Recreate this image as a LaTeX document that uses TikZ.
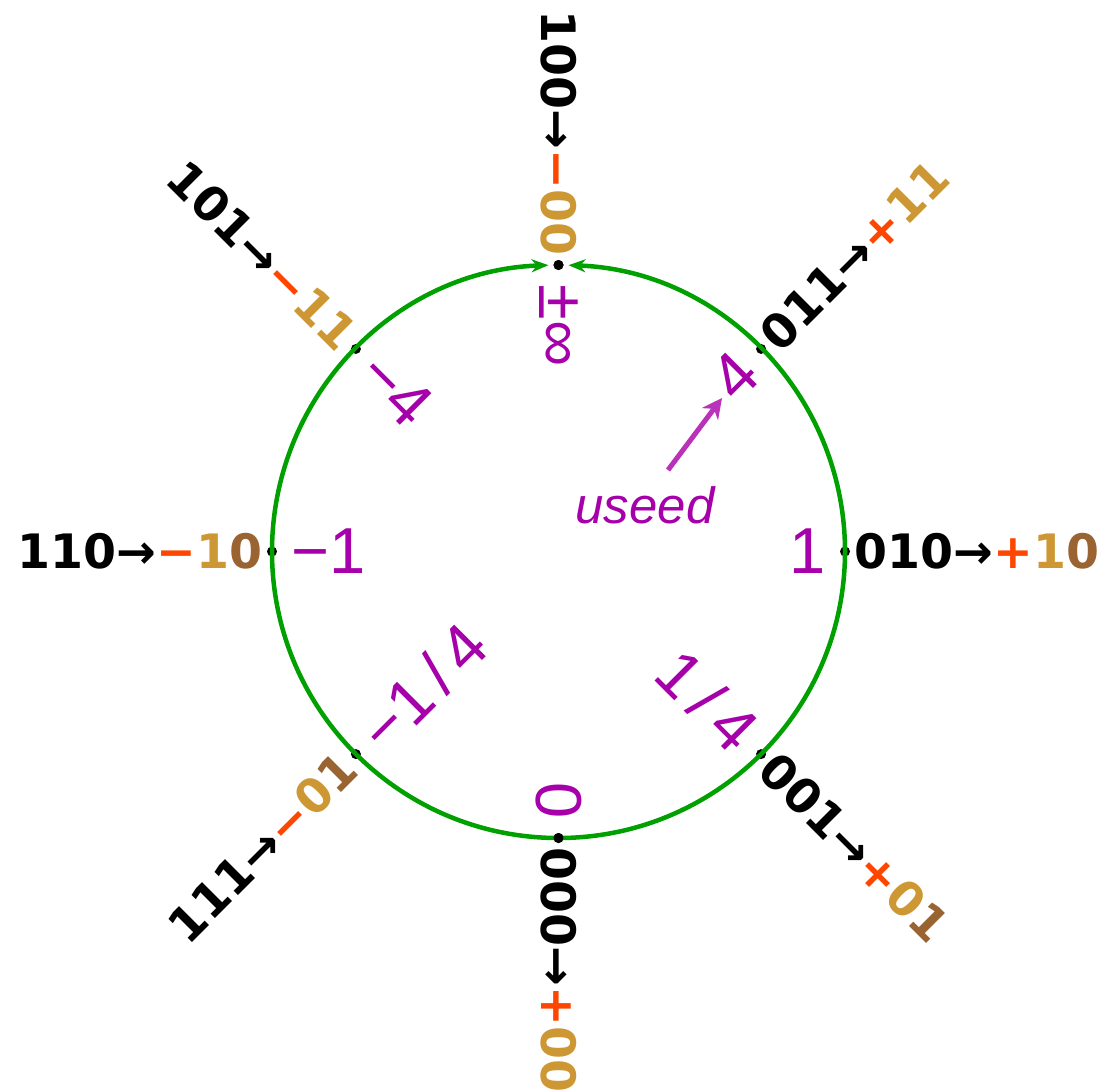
\documentclass[tikz,border=0pt]{standalone}
\usepackage{fontspec}
\setmainfont{Liberation Sans}
\newfontfamily\bitsfont{DejaVu Sans}
\definecolor{ringgreen}{RGB}{0,160,0}
\definecolor{valmagenta}{RGB}{165,0,170}
\definecolor{arrowmagenta}{RGB}{185,50,185}
\definecolor{signred}{RGB}{255,70,0}
\definecolor{regimegold}{RGB}{205,152,52}
\definecolor{termbrown}{RGB}{153,100,50}
\newcommand{\plusbit}{\textcolor{signred}{+}}
\newcommand{\minusbit}{\textcolor{signred}{−}}
\newcommand{\regbits}[1]{\textcolor{regimegold}{#1}}
\newcommand{\termbit}[1]{\textcolor{termbrown}{#1}}
\usetikzlibrary{arrows.meta}

\begin{document}
\begin{tikzpicture}[x=0.02cm,y=0.02cm,
  ring/.style={ringgreen,line width=0.09cm,-{Stealth[length=0.34cm,width=0.26cm]}},
  pt/.style={circle,fill=black,inner sep=0pt,minimum size=0.2cm},
  bits/.style={inner sep=0pt,font=\bitsfont\bfseries\fontsize{27}{27}\selectfont},
  val/.style={inner sep=0pt,text=valmagenta,font=\fontsize{37}{37}\selectfont}]
  \useasboundingbox (-558.5,-538.5) rectangle (555.5,551.5);
  % points on the ring
  \node[pt] (p000) at (270:286.5) {};
  \node[pt] (p001) at (315:286.5) {};
  \node[pt] (p010) at (0:286.5) {};
  \node[pt] (p011) at (45:286.5) {};
  \node[pt] (p100) at (90:286.5) {};
  \node[pt] (p101) at (135:286.5) {};
  \node[pt] (p110) at (180:286.5) {};
  \node[pt] (p111) at (225:286.5) {};
  % the ring, both halves meet at infinity
  \draw[ring] (p000) arc[start angle=-90,end angle=88,radius=286.5];
  \draw[ring] (p000) arc[start angle=270,end angle=92,radius=286.5];
  \node[pt] at (p000) {};
  \node[pt] at (p100) {};
  % bit strings outside
  \node[bits,rotate=-90,anchor=west] (b000) at (270:296) {000→\plusbit\regbits{00}};
  \node[bits,rotate=-45,anchor=west] (b001) at (315:296) {001→\plusbit\regbits{0}\termbit{1}};
  \node[bits,anchor=west] (b010) at (0:296) {010→\plusbit\regbits{1}\termbit{0}};
  \node[bits,rotate=45,anchor=west] (b011) at (45:296) {011→\plusbit\regbits{11}};
  \node[bits,rotate=-90,anchor=east] (b100) at (90:296) {100→\minusbit\regbits{00}};
  \node[bits,rotate=-45,anchor=east] (b101) at (135:296) {101→\minusbit\regbits{11}};
  \node[bits,anchor=east] (b110) at (180:296) {110→\minusbit\regbits{1}\termbit{0}};
  \node[bits,rotate=45,anchor=east] (b111) at (225:296) {111→\minusbit\regbits{0}\termbit{1}};
  % values inside
  \node[val,rotate=-90,anchor=east] (zero) at (270:267) {0};
  \node[val,rotate=-45,anchor=east] (quarter) at (315:267) {1\,/\,4};
  \node[val,anchor=east] (one) at (0:267) {1};
  \node[val,rotate=45,anchor=east] (four) at (45:267) {4};
  \node[val,rotate=-90,anchor=west] (inf) at (90:267) {±∞};
  \node[val,rotate=-45,anchor=west] (mfour) at (135:267) {−4};
  \node[val,anchor=west] (mone) at (180:267) {−1};
  \node[val,rotate=45,anchor=west] (mquarter) at (225:267) {−1\,/\,4};
  % useed
  \node[text=valmagenta,font=\itshape\fontsize{29}{29}\selectfont] (useed) at (86.5,46.5) {useed};
  \coordinate (useedtail) at (109.5,81.5);
  \coordinate (useedtip) at (163.5,153.5);
  \draw[arrowmagenta,line width=0.1cm,-{Stealth[length=0.4cm,width=0.4cm]}] (useedtail) -- (useedtip);
\end{tikzpicture}
\end{document}
